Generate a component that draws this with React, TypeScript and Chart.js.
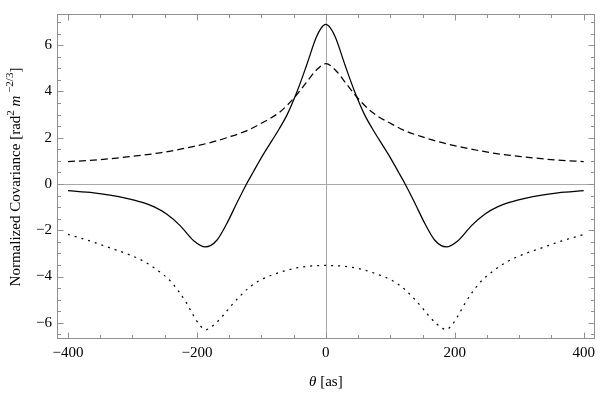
import React, { useEffect, useRef } from "react";
import { Chart, registerables } from "chart.js";

Chart.register(...registerables);

// ---- data (theta in arcsec, normalized covariance) ----
const solidX = [-400, -360, -335, -309, -288, -267, -247, -226, -205, -187, -169, -154, -138, -123, -113, -97, -72, -60, -46, -30, -15, -7, 0, 7, 15, 30, 46, 60, 72, 97, 113, 123, 138, 154, 169, 187, 205, 226, 247, 267, 288, 309, 335, 360, 400];
const solidY = [-0.29, -0.38, -0.48, -0.62, -0.77, -0.98, -1.3, -1.8, -2.45, -2.72, -2.43, -1.73, -0.82, 0, 0.5, 1.28, 2.4, 3.0, 3.9, 5.12, 6.33, 6.75, 6.9, 6.75, 6.33, 5.12, 3.9, 3.0, 2.4, 1.28, 0.5, 0, -0.82, -1.73, -2.43, -2.72, -2.45, -1.8, -1.3, -0.98, -0.77, -0.62, -0.48, -0.38, -0.29];

const dashX = [-400, -360, -309, -257, -206, -174, -154, -123, -103, -72, -49, -31, -15, 0, 15, 31, 49, 72, 103, 123, 154, 174, 206, 257, 309, 360, 400];
const dashY = [0.97, 1.03, 1.17, 1.35, 1.62, 1.83, 2.0, 2.3, 2.58, 3.1, 3.73, 4.36, 4.92, 5.2, 4.92, 4.36, 3.73, 3.1, 2.58, 2.3, 2.0, 1.83, 1.62, 1.35, 1.17, 1.03, 0.97];

const dotX = [-400, -365, -334, -310, -283, -260, -242, -228, -216, -205, -194, -186, -180, -172, -160, -148, -134, -120, -103, -80, -51, -25, 0, 25, 51, 80, 103, 120, 134, 148, 160, 172, 180, 186, 194, 205, 216, 228, 242, 260, 283, 310, 334, 365, 400];
const dotY = [-2.18, -2.47, -2.77, -3.0, -3.33, -3.75, -4.17, -4.65, -5.15, -5.7, -6.15, -6.3, -6.22, -6.05, -5.71, -5.3, -4.87, -4.5, -4.17, -3.9, -3.66, -3.55, -3.52, -3.55, -3.66, -3.9, -4.17, -4.5, -4.87, -5.3, -5.71, -6.05, -6.22, -6.3, -6.15, -5.7, -5.15, -4.65, -4.17, -3.75, -3.33, -3.0, -2.77, -2.47, -2.18];

// ---- axes ----
const xMin = -417;
const xMax = 417;
const yMin = -6.7;
const yMax = 7.35;
const xMajorTicks = [-400, -200, 0, 200, 400];
const xMinorTicks = [-350, -300, -250, -150, -100, -50, 50, 100, 150, 250, 300, 350];
const yMajorTicks = [-6, -4, -2, 0, 2, 4, 6];
const yMinorTicks = [-6.5, -5.5, -5, -4.5, -3.5, -3, -2.5, -1.5, -1, -0.5, 0.5, 1, 1.5, 2.5, 3, 3.5, 4.5, 5, 5.5, 6.5, 7];

const SERIF = "'Liberation Serif', 'DejaVu Serif', serif";
const fmt = (v: number | string) => String(v).replace("-", "\u2212");

const framePlugin = {
  id: "mmaFrame",
  beforeDatasetsDraw(chart: any) {
    const { ctx, chartArea: a, scales } = chart;
    const x = scales.x, y = scales.y;
    ctx.save();
    ctx.strokeStyle = "#a8a8a8";
    ctx.lineWidth = 1;
    const x0 = Math.round(x.getPixelForValue(0)) + 0.5;
    const y0 = Math.round(y.getPixelForValue(0)) + 0.5;
    ctx.beginPath();
    ctx.moveTo(x0, a.top);
    ctx.lineTo(x0, a.bottom);
    ctx.moveTo(a.left, y0);
    ctx.lineTo(a.right, y0);
    ctx.stroke();
    ctx.restore();
  },
  afterDraw(chart: any) {
    const { ctx, chartArea: a, scales } = chart;
    const x = scales.x, y = scales.y;
    ctx.save();
    ctx.strokeStyle = "#909090";
    ctx.lineWidth = 1;
    const L = Math.round(a.left) + 0.5, R = Math.round(a.right) - 0.5;
    const T = Math.round(a.top) + 0.5, B = Math.round(a.bottom) - 0.5;
    ctx.strokeRect(L, T, R - L, B - T);
    const major = 6, minor = 3.5;
    ctx.beginPath();
    const xt = (v: number, len: number) => {
      const p = Math.round(x.getPixelForValue(v)) + 0.5;
      ctx.moveTo(p, B); ctx.lineTo(p, B - len);
      ctx.moveTo(p, T); ctx.lineTo(p, T + len);
    };
    const yt = (v: number, len: number) => {
      const p = Math.round(y.getPixelForValue(v)) + 0.5;
      ctx.moveTo(L, p); ctx.lineTo(L + len, p);
      ctx.moveTo(R, p); ctx.lineTo(R - len, p);
    };
    xMajorTicks.forEach((v) => xt(v, major));
    xMinorTicks.forEach((v) => xt(v, minor));
    yMajorTicks.forEach((v) => yt(v, major));
    yMinorTicks.forEach((v) => yt(v, minor));
    ctx.stroke();

    // axis titles
    ctx.fillStyle = "#000";
    ctx.textBaseline = "alphabetic";
    ctx.textAlign = "left";
    const f = `15px ${SERIF}`;
    const fi = `italic 15px ${SERIF}`;
    // x title: θ [as]
    ctx.font = fi;
    const w1 = ctx.measureText("\u03b8").width;
    ctx.font = f;
    const w2 = ctx.measureText(" [as]").width;
    const cx = x.getPixelForValue(0);
    const sx = cx - (w1 + w2) / 2;
    const by = 386;
    ctx.font = fi; ctx.fillText("\u03b8", sx, by);
    ctx.font = f; ctx.fillText(" [as]", sx + w1, by);

    // y title with superscripts
    const sup = `11px ${SERIF}`;
    const supi = `italic 11px ${SERIF}`;
    const parts: [string, string, number][] = [
      ["Normalized Covariance [rad", f, 0],
      ["2", sup, -6],
      [" ", f, 0],
      ["m", fi, 0],
      [" \u22122/3", sup, -7],
      ["]", f, 0],
    ];
    let total = 0;
    const widths = parts.map(([t, fo]) => { ctx.font = fo; const w = ctx.measureText(t).width; total += w; return w; });
    ctx.translate(20, 177);
    ctx.rotate(-Math.PI / 2);
    let px = -total / 2;
    parts.forEach(([t, fo, dy], i) => {
      ctx.font = fo;
      ctx.fillText(t, px, dy);
      px += widths[i];
    });
    void supi;
    ctx.restore();
  },
};

export default function App() {
  const ref = useRef<HTMLCanvasElement>(null);
  useEffect(() => {
    document.body.style.margin = "0";
    const pts = (xs: number[], ys: number[]) => xs.map((v, i) => ({ x: v, y: ys[i] }));
    const base = { showLine: true, pointRadius: 0, borderColor: "#000", borderWidth: 1.25, cubicInterpolationMode: "monotone" as const, fill: false };
    const tickFont = { family: SERIF, size: 15 };
    const chart = new Chart(ref.current as HTMLCanvasElement, {
      type: "scatter",
      data: {
        datasets: [
          { ...base, data: pts(solidX, solidY) },
          { ...base, data: pts(dashX, dashY), borderDash: [7, 4] },
          { ...base, data: pts(dotX, dotY), borderDash: [2, 5] },
        ],
      },
      options: {
        animation: false,
        responsive: false,
        layout: { padding: { top: 6, right: 2, left: 0, bottom: 0 } },
        plugins: { legend: { display: false }, tooltip: { enabled: false } },
        scales: {
          x: {
            type: "linear",
            min: xMin,
            max: xMax,
            afterBuildTicks: (s: any) => { s.ticks = xMajorTicks.map((v) => ({ value: v })); },
            afterFit: (s: any) => { s.height = 54; },
            grid: { display: false, drawTicks: false },
            border: { display: false },
            ticks: { padding: 5, font: tickFont, color: "#000", callback: (v: any) => fmt(v), maxRotation: 0, autoSkip: false },
          },
          y: {
            type: "linear",
            min: yMin,
            max: yMax,
            afterBuildTicks: (s: any) => { s.ticks = yMajorTicks.map((v) => ({ value: v })); },
            afterFit: (s: any) => { s.width = 57; },
            grid: { display: false, drawTicks: false },
            border: { display: false },
            ticks: { padding: 5, font: tickFont, color: "#000", callback: (v: any) => fmt(v), autoSkip: false },
          },
        },
      } as any,
      plugins: [framePlugin],
    });
    return () => chart.destroy();
  }, []);
  return (
    <div style={{ width: 600, height: 393 }}>
      <canvas ref={ref} width={600} height={393} style={{ display: "block" }} />
    </div>
  );
}
